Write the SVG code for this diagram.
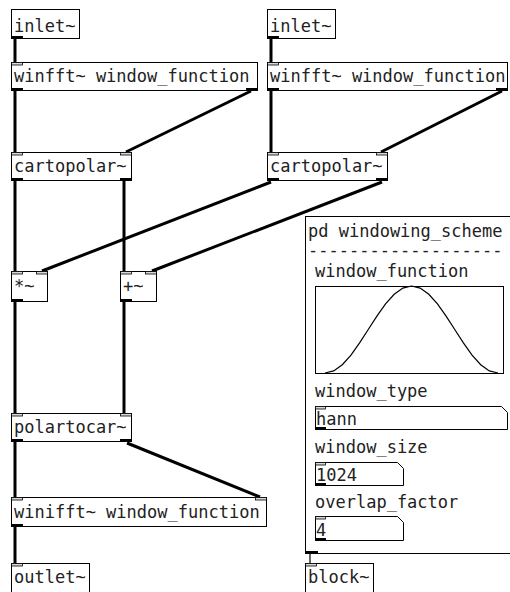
<svg xmlns="http://www.w3.org/2000/svg" width="510" height="592" viewBox="0 0 510 592">
<style>
.bg{fill:#fff}
.box{fill:#fff;stroke:#000;stroke-width:1}
.t{font-family:"DejaVu Sans Mono","Liberation Mono",monospace;font-size:17px;fill:#222}
.in{fill:#d8d8d8;stroke:#000;stroke-width:0.8}
.out{fill:#000}
.sig{stroke:#000;stroke-width:3;fill:none}
.ctl{stroke:#000;stroke-width:1.2;fill:none}
</style>
<rect class="bg" x="0" y="0" width="510" height="592"/>
<g id="connectors">
<line class="sig" x1="15" y1="38" x2="15" y2="62"/>
<line class="sig" x1="271" y1="38" x2="271" y2="62"/>
<line class="sig" x1="15" y1="90" x2="15" y2="152"/>
<line class="sig" x1="271" y1="90" x2="271" y2="152"/>
<line class="sig" x1="251" y1="91" x2="126" y2="152"/>
<line class="sig" x1="502" y1="91" x2="381" y2="152"/>
<line class="sig" x1="15" y1="181" x2="15" y2="271"/>
<line class="sig" x1="124" y1="181" x2="124" y2="271"/>
<line class="sig" x1="271" y1="182" x2="42" y2="271"/>
<line class="sig" x1="382" y1="182" x2="152" y2="271"/>
<line class="sig" x1="15" y1="302" x2="15" y2="413"/>
<line class="sig" x1="124" y1="302" x2="124" y2="413"/>
<line class="sig" x1="15" y1="442" x2="15" y2="497"/>
<line class="sig" x1="127" y1="443" x2="260" y2="497"/>
<line class="sig" x1="15" y1="527" x2="15" y2="563"/>
<line class="ctl" x1="310" y1="553" x2="310" y2="563"/>
</g>
<g id="inlet1">
<rect class="box" x="11.5" y="9.5" width="68" height="29"/>
<rect class="out" x="11" y="36" width="12" height="3"/>
<text class="t" x="14" y="32">inlet~</text>
</g>
<g id="inlet2">
<rect class="box" x="267.5" y="9.5" width="68" height="29"/>
<rect class="out" x="267" y="36" width="12" height="3"/>
<text class="t" x="270" y="32">inlet~</text>
</g>
<g id="winfft1">
<rect class="box" x="11.5" y="62.5" width="246" height="28"/>
<rect class="in" x="11.5" y="62.5" width="11" height="2.5"/>
<rect class="out" x="11" y="88" width="12" height="3"/>
<rect class="out" x="246" y="88" width="12" height="3"/>
<text class="t" x="14" y="82">winfft~ window_function</text>
</g>
<g id="winfft2">
<rect class="box" x="267.5" y="62.5" width="240" height="28"/>
<rect class="in" x="267.5" y="62.5" width="11" height="2.5"/>
<rect class="out" x="267" y="88" width="12" height="3"/>
<rect class="out" x="496" y="88" width="12" height="3"/>
<text class="t" x="270" y="82">winfft~ window_function</text>
</g>
<g id="cartopolar1">
<rect class="box" x="11.5" y="152.5" width="120" height="28"/>
<rect class="in" x="11.5" y="152.5" width="11" height="2.5"/>
<rect class="in" x="120.5" y="152.5" width="11" height="2.5"/>
<rect class="out" x="11" y="178" width="12" height="3"/>
<rect class="out" x="120" y="178" width="12" height="3"/>
<text class="t" x="14" y="172">cartopolar~</text>
</g>
<g id="cartopolar2">
<rect class="box" x="267.5" y="152.5" width="120" height="28"/>
<rect class="in" x="267.5" y="152.5" width="11" height="2.5"/>
<rect class="in" x="376.5" y="152.5" width="11" height="2.5"/>
<rect class="out" x="267" y="178" width="12" height="3"/>
<rect class="out" x="376" y="178" width="12" height="3"/>
<text class="t" x="270" y="172">cartopolar~</text>
</g>
<g id="mul">
<rect class="box" x="11.5" y="271.5" width="36" height="30"/>
<rect class="in" x="11.5" y="271.5" width="11" height="2.5"/>
<rect class="in" x="36.5" y="271.5" width="11" height="2.5"/>
<rect class="out" x="11" y="299" width="12" height="3"/>
<text class="t" x="14" y="292">*~</text>
</g>
<g id="add">
<rect class="box" x="120.5" y="271.5" width="36" height="30"/>
<rect class="in" x="120.5" y="271.5" width="11" height="2.5"/>
<rect class="in" x="145.5" y="271.5" width="11" height="2.5"/>
<rect class="out" x="120" y="299" width="12" height="3"/>
<text class="t" x="123" y="292">+~</text>
</g>
<g id="polartocar">
<rect class="box" x="11.5" y="413.5" width="120" height="28"/>
<rect class="in" x="11.5" y="413.5" width="11" height="2.5"/>
<rect class="in" x="120.5" y="413.5" width="11" height="2.5"/>
<rect class="out" x="11" y="439" width="12" height="3"/>
<rect class="out" x="120" y="439" width="12" height="3"/>
<text class="t" x="14" y="433">polartocar~</text>
</g>
<g id="winifft">
<rect class="box" x="11.5" y="497.5" width="255" height="29"/>
<rect class="in" x="11.5" y="497.5" width="11" height="2.5"/>
<rect class="in" x="255.5" y="497.5" width="11" height="2.5"/>
<rect class="out" x="11" y="524" width="12" height="3"/>
<text class="t" x="14" y="518">winifft~ window_function</text>
</g>
<g id="outlet">
<rect class="box" x="11.5" y="563.5" width="78" height="34"/>
<rect class="in" x="11.5" y="563.5" width="11" height="2.5"/>
<text class="t" x="14" y="583">outlet~</text>
</g>
<g id="windowing_scheme">
<rect class="box" x="305.5" y="216.5" width="210" height="337"/>
<rect class="out" x="305" y="551" width="13" height="3"/>
<text class="t" x="308" y="237">pd windowing_scheme</text>
<text class="t" x="308" y="256">-------------------</text>
<text class="t" x="315" y="277">window_function</text>
<rect class="box" x="315.5" y="286.5" width="188" height="87"/>
<polyline fill="none" stroke="#000" stroke-width="1.2" points="325,373 333.65,370.87 342.3,364.69 350.95,355.07 359.6,342.94 368.25,329.5 376.9,316.06 385.55,303.93 394.2,294.31 402.85,288.13 411.5,286 420.15,288.13 428.8,294.31 437.45,303.93 446.1,316.06 454.75,329.5 463.4,342.94 472.05,355.07 480.7,364.69 489.35,370.87 498,373"/>
<text class="t" x="315" y="397">window_type</text>
<path class="box" d="M315.5,406.5 H501.5 L507.5,412.5 V429.5 H315.5 Z"/>
<rect class="in" x="315.5" y="406.5" width="10" height="2.5"/>
<rect class="out" x="315" y="427" width="11" height="3"/>
<text class="t" x="316" y="425">hann</text>
<text class="t" x="315" y="453">window_size</text>
<path class="box" d="M315.5,462.5 H397.5 L403.5,468.5 V485.5 H315.5 Z"/>
<rect class="in" x="315.5" y="462.5" width="10" height="2.5"/>
<rect class="out" x="315" y="483" width="11" height="3"/>
<text class="t" x="316" y="481">1024</text>
<text class="t" x="315" y="508">overlap_factor</text>
<path class="box" d="M315.5,516.5 H397.5 L403.5,522.5 V540.5 H315.5 Z"/>
<rect class="in" x="315.5" y="516.5" width="10" height="2.5"/>
<rect class="out" x="315" y="538" width="11" height="3"/>
<text class="t" x="316" y="536">4</text>
</g>
<g id="block">
<rect class="box" x="305.5" y="563.5" width="68" height="34"/>
<rect class="in" x="305.5" y="563.5" width="11" height="2.5"/>
<text class="t" x="308" y="583">block~</text>
</g>
</svg>
